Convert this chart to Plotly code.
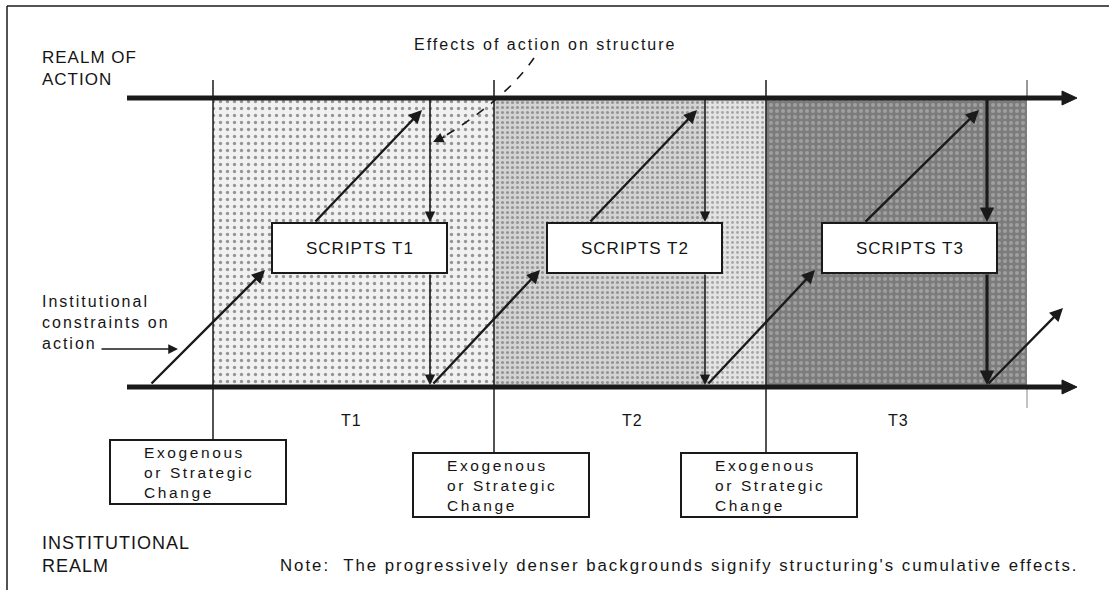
import plotly.graph_objects as go

# ---------------- data ----------------
period_labels = ["T1", "T2", "T3"]
period_bounds = [213, 494, 766, 1027]              # time boundaries
script_labels = ["SCRIPTS T1", "SCRIPTS T2", "SCRIPTS T3"]
script_left = [272, 547, 822]
effect_x = [430, 705, 987]                          # effects of action on structure
constraint_start = [150, 432, 707, 987]             # constraints leave the institutional realm
change_left = [110, 413, 681]
change_top = [440, 453, 453]
change_label = "Exogenous<br>or Strategic<br>Change"
shade_start = [213, 494, 705, 766]
shade_end = [494, 705, 766, 1027]
shade_bg = ["#f1f1f1", "#d4d4d4", "#e4e4e4", "#7c7c7c"]
shade_fg = ["#3a3a3a", "#555555", "#666666", "#c4c4c4"]
shade_size = [7, 5, 5, 6]
shade_solid = [0.18, 0.3, 0.25, 0.35]

# ---------------- layout constants ----------------
W, H = 1109, 590
ACTION_Y, INST_Y = 98, 387
AXIS_X0, AXIS_TIP = 127, 1077
BOX_TOP, BOX_BOT, BOX_W = 223, 273, 175
CH_W, CH_H = 176, 64
INK = "#1a1a1a"
TXT = "#151515"
FONT = "Liberation Sans, Arial, sans-serif"

fig = go.Figure()

# shaded backgrounds (structuring's cumulative effects)
for s, e, bg, fg, sz, so in zip(shade_start, shade_end, shade_bg, shade_fg, shade_size, shade_solid):
    fig.add_trace(go.Bar(
        x=[(s + e) / 2], y=[INST_Y - ACTION_Y], base=[ACTION_Y], width=[e - s],
        marker=dict(color=bg, line_width=0,
                    pattern=dict(shape=".", fgcolor=fg, bgcolor=bg, size=sz, solidity=so)),
        hoverinfo="skip", showlegend=False))

shapes = []
annotations = []

# frame
shapes.append(dict(type="line", x0=7, y0=6, x1=W, y1=6, line=dict(color=INK, width=1.5)))
shapes.append(dict(type="line", x0=7, y0=6, x1=7, y1=H, line=dict(color=INK, width=1.5)))

# period boundary lines
for i, xb in enumerate(period_bounds):
    if i < 3:
        shapes.append(dict(type="line", x0=xb, y0=80, x1=xb, y1=change_top[i],
                           line=dict(color=INK, width=1.5)))
    else:
        shapes.append(dict(type="line", x0=xb, y0=80, x1=xb, y1=ACTION_Y, line=dict(color="#777", width=1.5)))
        shapes.append(dict(type="line", x0=xb, y0=INST_Y, x1=xb, y1=408, line=dict(color="#999", width=1.2)))

# realm axes with arrow tips
for yy in (ACTION_Y, INST_Y):
    shapes.append(dict(type="line", x0=AXIS_X0, y0=yy, x1=AXIS_TIP - 8, y1=yy,
                       line=dict(color=INK, width=5)))
    shapes.append(dict(type="path", path=f"M {AXIS_TIP-15},{yy-7} L {AXIS_TIP},{yy} L {AXIS_TIP-15},{yy+7} Z",
                       fillcolor=INK, line=dict(color=INK, width=1)))

# scripts boxes
for lbl, xl in zip(script_labels, script_left):
    shapes.append(dict(type="rect", x0=xl, y0=BOX_TOP, x1=xl + BOX_W, y1=BOX_BOT,
                       fillcolor="white", line=dict(color=INK, width=2)))
    annotations.append(dict(x=xl + BOX_W / 2, y=(BOX_TOP + BOX_BOT) / 2, text=lbl, showarrow=False,
                            font=dict(size=17, color=TXT, family=FONT)))

# change boxes
for xl, yt in zip(change_left, change_top):
    shapes.append(dict(type="rect", x0=xl, y0=yt, x1=xl + CH_W, y1=yt + CH_H,
                       fillcolor="white", line=dict(color=INK, width=2)))
    annotations.append(dict(x=xl + 32, y=yt + CH_H / 2, text=change_label, showarrow=False,
                            xanchor="left", align="left",
                            font=dict(size=15.5, color=TXT, family=FONT)))

def arrow(x0, y0, x1, y1, w=2.2, head=2, size=1.0, color=INK):
    annotations.append(dict(x=x1, y=y1, ax=x0, ay=y0, xref="x", yref="y", axref="x", ayref="y",
                            text="", showarrow=True, arrowhead=head, arrowsize=size,
                            arrowwidth=w, arrowcolor=color, standoff=0, startstandoff=0))

# effects of action on structure (vertical arrows)
for i, ex in enumerate(effect_x):
    w = 3.2 if i == 2 else 1.6
    arrow(ex, ACTION_Y, ex, BOX_TOP - 1, w=w, size=1.3 if i < 2 else 0.9)
    arrow(ex, BOX_BOT, ex, INST_Y - 2, w=w, size=1.3 if i < 2 else 0.9)

# institutional constraints on action (diagonal arrows)
for i, cs in enumerate(constraint_start):
    if i < 3:
        xl = script_left[i]
        arrow(cs, INST_Y - 2, xl - 7, BOX_BOT - 3, w=2.4, size=1.1)
        arrow(xl + 42, BOX_TOP, effect_x[i] - 8, ACTION_Y + 12, w=2.4, size=1.1)
    else:
        arrow(cs, INST_Y - 2, 1063, 308, w=2.4, size=1.1)

# dashed curved pointer
shapes.append(dict(type="path", path="M 534,58 Q 505,100 440,139",
                   line=dict(color=INK, width=1.6, dash="dash")))
arrow(446, 136, 433, 142, w=1.6, size=1.3)

# pointer for constraints label
arrow(100, 349, 178, 349, w=1.5, size=1.3)

# text labels
annotations += [
    dict(x=40, y=68, text="REALM OF<br>ACTION", showarrow=False, xanchor="left", align="left",
         font=dict(size=17, color=TXT, family=FONT)),
    dict(x=545, y=44, text="Effects of action on structure", showarrow=False,
         font=dict(size=16, color=TXT, family=FONT)),
    dict(x=40, y=322, text="Institutional<br>constraints on<br>action", showarrow=False,
         xanchor="left", align="left", font=dict(size=16, color=TXT, family=FONT)),
    dict(x=40, y=554, text="INSTITUTIONAL<br>REALM", showarrow=False, xanchor="left", align="left",
         font=dict(size=18, color=TXT, family=FONT)),
    dict(x=278, y=565, text="Note:  The progressively denser backgrounds signify structuring's cumulative effects.",
         showarrow=False, xanchor="left", align="left", font=dict(size=16.8, color=TXT, family=FONT)),
]
t_x = [351, 632, 898]
for lbl, tx in zip(period_labels, t_x):
    annotations.append(dict(x=tx, y=420, text=lbl, showarrow=False,
                            font=dict(size=16, color=TXT, family=FONT)))

fig.update_layout(
    width=W, height=H, margin=dict(l=0, r=0, t=0, b=0),
    paper_bgcolor="white", plot_bgcolor="white",
    xaxis=dict(range=[0, W], visible=False, fixedrange=True),
    yaxis=dict(range=[H, 0], visible=False, fixedrange=True),
    barmode="overlay", shapes=shapes, annotations=annotations,
)

post = """
document.body.style.margin = '0';
document.body.style.overflow = 'hidden';
document.querySelectorAll('.annotation-text').forEach(function (t) {
  var s = t.textContent.replace(/\\s/g, '');
  var ls = '2px';
  if (/^[A-Z0-9]+$/.test(s)) ls = '1px';
  else if (s.indexOf('Exogenous') === 0) ls = '2.6px';
  t.setAttribute('letter-spacing', ls);
});
"""
fig.write_html("out.html", post_script=post, config={"displayModeBar": False})
